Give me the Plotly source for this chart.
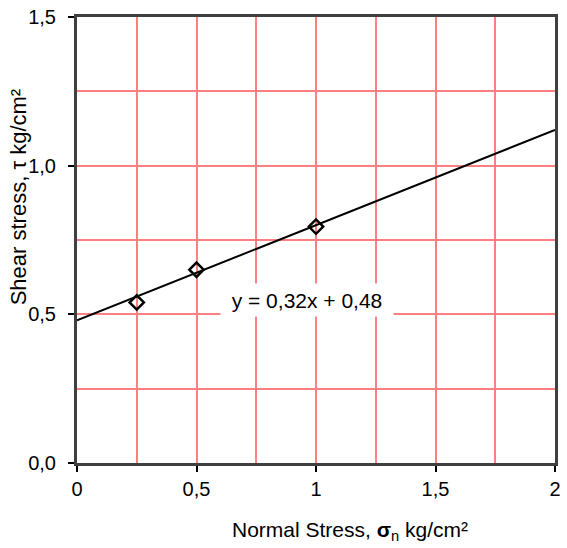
import plotly.graph_objects as go

normal_stress = [0.25, 0.5, 1.0]
shear_stress = [0.54, 0.65, 0.795]
slope = 0.32
intercept = 0.48
line_x = [0, 2]
line_y = [intercept + slope * v for v in line_x]
equation_text = "y = 0,32x + 0,48"

grid_color = "#FF8080"
fam = "Liberation Sans, Arial, sans-serif"
tick_font = dict(family=fam, size=20, color="black")

fig = go.Figure()
fig.add_trace(go.Scatter(x=line_x, y=line_y, mode="lines",
                         line=dict(color="black", width=2), showlegend=False))
fig.add_trace(go.Scatter(x=normal_stress, y=shear_stress, mode="markers",
                         marker=dict(symbol="diamond-open", size=11, color="black",
                                     line=dict(width=2.5, color="black")),
                         showlegend=False))

axis_common = dict(showgrid=True, gridcolor=grid_color, gridwidth=2,
                   showline=True, linecolor="#404040", linewidth=3, mirror=True,
                   ticks="outside", ticklen=6, tickcolor="black", tickwidth=2,
                   zeroline=False, tickfont=tick_font)

fig.update_layout(
    width=567, height=548,
    margin=dict(l=77, r=6, t=16, b=85),
    plot_bgcolor="white", paper_bgcolor="white",
    separators=",.",
    font=tick_font,
    xaxis=dict(range=[0, 2], dtick=0.5, tick0=0,
               minor=dict(dtick=0.25, showgrid=True, gridcolor=grid_color, gridwidth=2),
               **axis_common),
    yaxis=dict(range=[0, 1.5], dtick=0.5, tick0=0, tickformat=".1f", ticklabelstandoff=8,
               minor=dict(dtick=0.25, showgrid=True, gridcolor=grid_color, gridwidth=2),
               **axis_common),
)

fig.add_annotation(x=0.963, y=0.547, xref="x", yref="y", text=equation_text, showarrow=False,
                   bgcolor="white", font=dict(family=fam, size=21, color="black"),
                   width=166, height=26, borderpad=3,
                   xanchor="center", yanchor="middle")
fig.add_annotation(x=(353 - 77) / (561 - 77), y=-(531 - 463) / (463 - 16), xref="paper", yref="paper",
                   text="Normal Stress, <b>σ</b><sub>n</sub> kg/cm²", showarrow=False,
                   xanchor="center", yanchor="middle", font=dict(family=fam, size=21, color="black"))
fig.add_annotation(x=-(77 - 18) / (561 - 77), y=(463 - 196) / (463 - 16), xref="paper", yref="paper",
                   text="Shear stress, τ kg/cm²", showarrow=False, textangle=-90,
                   xanchor="center", yanchor="middle", font=dict(family=fam, size=22, color="black"))

fig.write_html("out.html")
